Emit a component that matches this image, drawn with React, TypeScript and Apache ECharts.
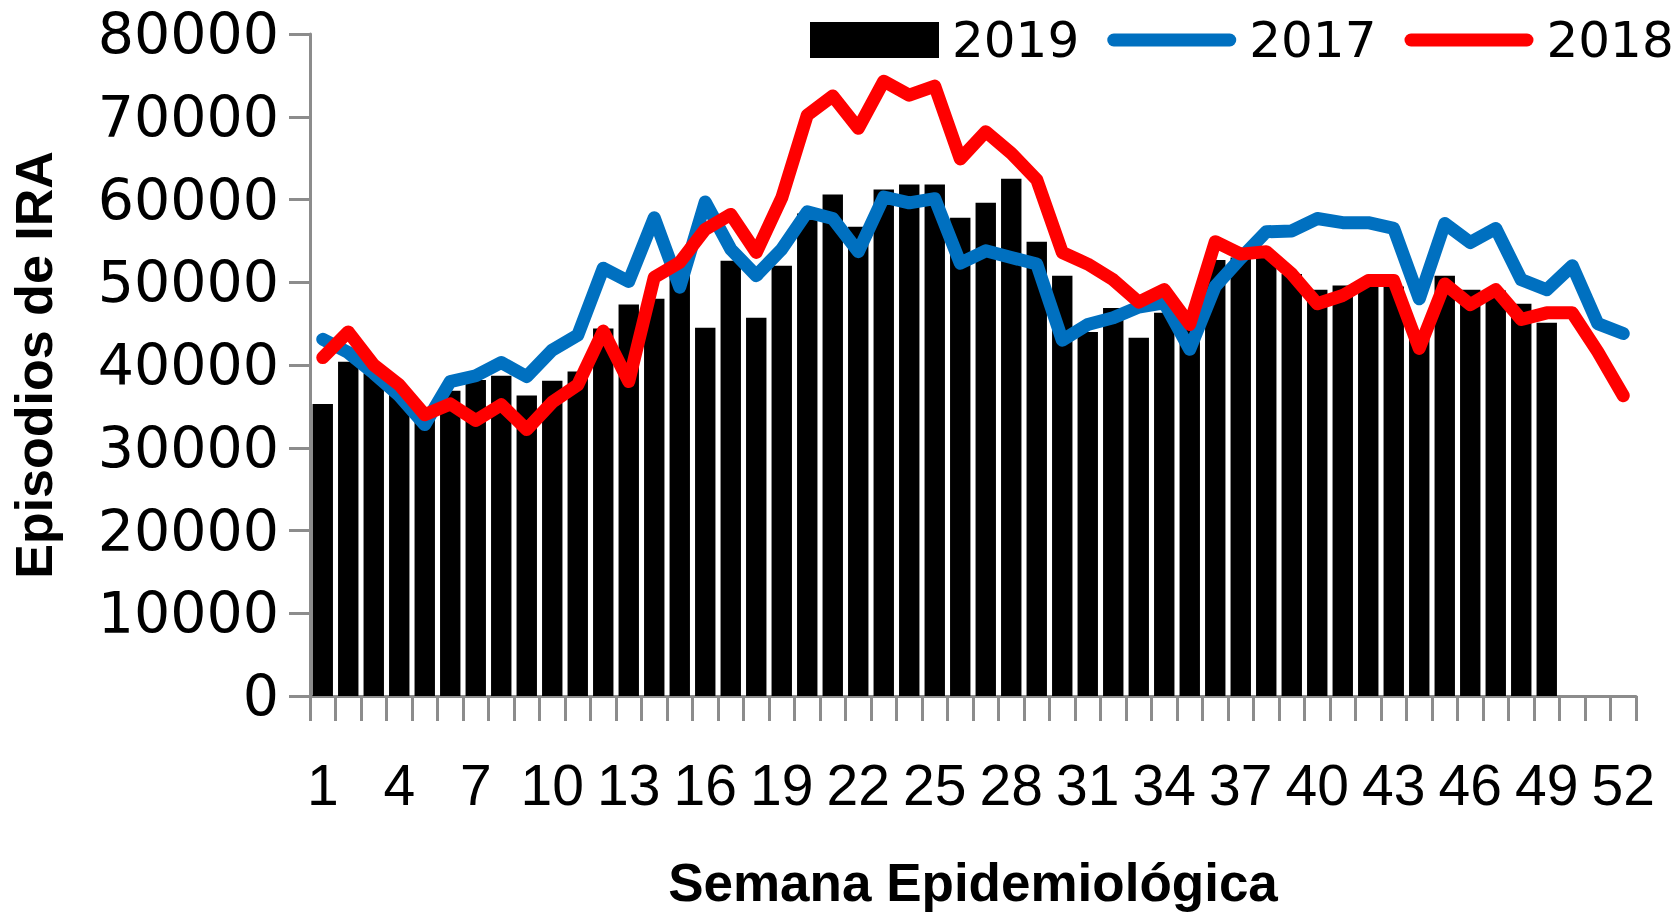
import React, { useEffect, useRef } from "react";
import * as echarts from "echarts";

const weeks = [
  "1", "2", "3", "4", "5", "6", "7", "8", "9", "10", "11", "12", "13",
  "14", "15", "16", "17", "18", "19", "20", "21", "22", "23", "24", "25", "26",
  "27", "28", "29", "30", "31", "32", "33", "34", "35", "36", "37", "38", "39",
  "40", "41", "42", "43", "44", "45", "46", "47", "48", "49", "50", "51", "52",
];

const episodes2019 = [
  35300, 40400, 39000, 36500, 34500, 36900, 38200, 38700, 36300, 38100, 39200, 44400, 47300,
  48000, 51500, 44500, 52600, 45700, 52000, 58300, 60600, 56700, 61200, 61800, 61800, 57800,
  59600, 62500, 54900, 50800, 44000, 46900, 43300, 46300, 46000, 52700, 53000, 53500, 51000,
  49100, 49600, 49800, 49500, 43200, 50800, 49100, 49000, 47400, 45100,
];

const episodes2017 = [
  43100, 41500, 39000, 36300, 32800, 38000, 38700, 40300, 38600, 41800, 43600, 51700, 50100,
  57800, 49400, 59700, 54000, 50800, 54000, 58500, 57700, 53700, 60300, 59600, 60100, 52300,
  53800, 53000, 52200, 43000, 44900, 45700, 47000, 47500, 41900, 49500, 52900, 56100, 56200,
  57700, 57200, 57200, 56500, 48000, 57100, 54800, 56500, 50300, 49100, 52000, 45000, 43800,
];

const episodes2018 = [
  40900, 44000, 40000, 37600, 34000, 35300, 33300, 35200, 32200, 35500, 37600, 44100, 38000,
  50600, 52400, 56400, 58200, 53600, 60200, 70200, 72500, 68600, 74300, 72600, 73700, 64900,
  68200, 65600, 62400, 53600, 52200, 50300, 47600, 49100, 44900, 54900, 53400, 53700, 51000,
  47400, 48400, 50200, 50200, 42000, 49800, 47300, 49100, 45500, 46300, 46300, 41600, 36300,
];

const axisGray = "#8c8c8c";
const lineIcon =
  "path://M6.5 0 H122.5 A6.5 6.5 0 0 1 122.5 13 H6.5 A6.5 6.5 0 0 1 6.5 0 Z";

export default function App() {
  const ref = useRef<HTMLDivElement>(null);

  useEffect(() => {
    const chart = echarts.init(ref.current!, null, { renderer: "svg" });
    chart.setOption({
      animation: false,
      backgroundColor: "#ffffff",
      grid: { left: 309, right: 41, top: 34, bottom: 217, containLabel: false },
      legend: {
        left: 805,
        top: 10,
        width: 1000,
        itemWidth: 129,
        itemHeight: 36,
        itemGap: 28,
        textStyle: {
          fontSize: 50,
          fontFamily: "'DejaVu Sans', sans-serif",
          color: "#000",
          padding: [0, 0, 0, 8],
        },
        data: [
          { name: "2019", icon: "rect" },
          { name: "2017", icon: lineIcon },
          { name: "2018", icon: lineIcon },
        ],
      },
      xAxis: {
        type: "category",
        data: weeks,
        boundaryGap: true,
        axisLine: { lineStyle: { color: axisGray, width: 3 } },
        axisTick: {
          show: true,
          interval: 0,
          length: 25,
          lineStyle: { color: axisGray, width: 3 },
        },
        axisLabel: {
          interval: 2,
          margin: 60,
          fontSize: 57,
          fontFamily: "'Liberation Sans Narrow', 'Liberation Sans', sans-serif",
          color: "#000",
        },
        name: "Semana Epidemiológica",
        nameLocation: "middle",
        nameGap: 160,
        nameTextStyle: {
          fontSize: 53,
          fontWeight: "bold",
          fontFamily: "'Liberation Sans', sans-serif",
          color: "#000",
        },
      },
      yAxis: {
        type: "value",
        min: 0,
        max: 80000,
        interval: 10000,
        splitLine: { show: false },
        axisLine: { show: true, lineStyle: { color: axisGray, width: 3 } },
        axisTick: { show: true, length: 21, lineStyle: { color: axisGray, width: 3 } },
        axisLabel: {
          margin: 31,
          fontSize: 57,
          fontFamily: "'DejaVu Sans', sans-serif",
          color: "#000",
          formatter: (v: number) => String(v),
        },
        name: "Episodios de IRA",
        nameLocation: "middle",
        nameGap: 250,
        nameRotate: 90,
        nameTextStyle: {
          fontSize: 52,
          fontWeight: "bold",
          fontFamily: "'Liberation Sans', sans-serif",
          color: "#000",
        },
      },
      series: [
        {
          name: "2019",
          type: "bar",
          data: episodes2019,
          barCategoryGap: "20%",
          itemStyle: { color: "#000000" },
        },
        {
          name: "2017",
          type: "line",
          data: episodes2017,
          symbol: "none",
          showSymbol: false,
          lineStyle: { color: "#0070C0", width: 13, cap: "round", join: "round" },
          itemStyle: { color: "#0070C0" },
        },
        {
          name: "2018",
          type: "line",
          data: episodes2018,
          symbol: "none",
          showSymbol: false,
          lineStyle: { color: "#FF0000", width: 13, cap: "round", join: "round" },
          itemStyle: { color: "#FF0000" },
        },
      ],
    });
    return () => chart.dispose();
  }, []);

  return (
    <div
      ref={ref}
      style={{ position: "fixed", left: 0, top: 0, width: 1677, height: 914, background: "#fff" }}
    />
  );
}
